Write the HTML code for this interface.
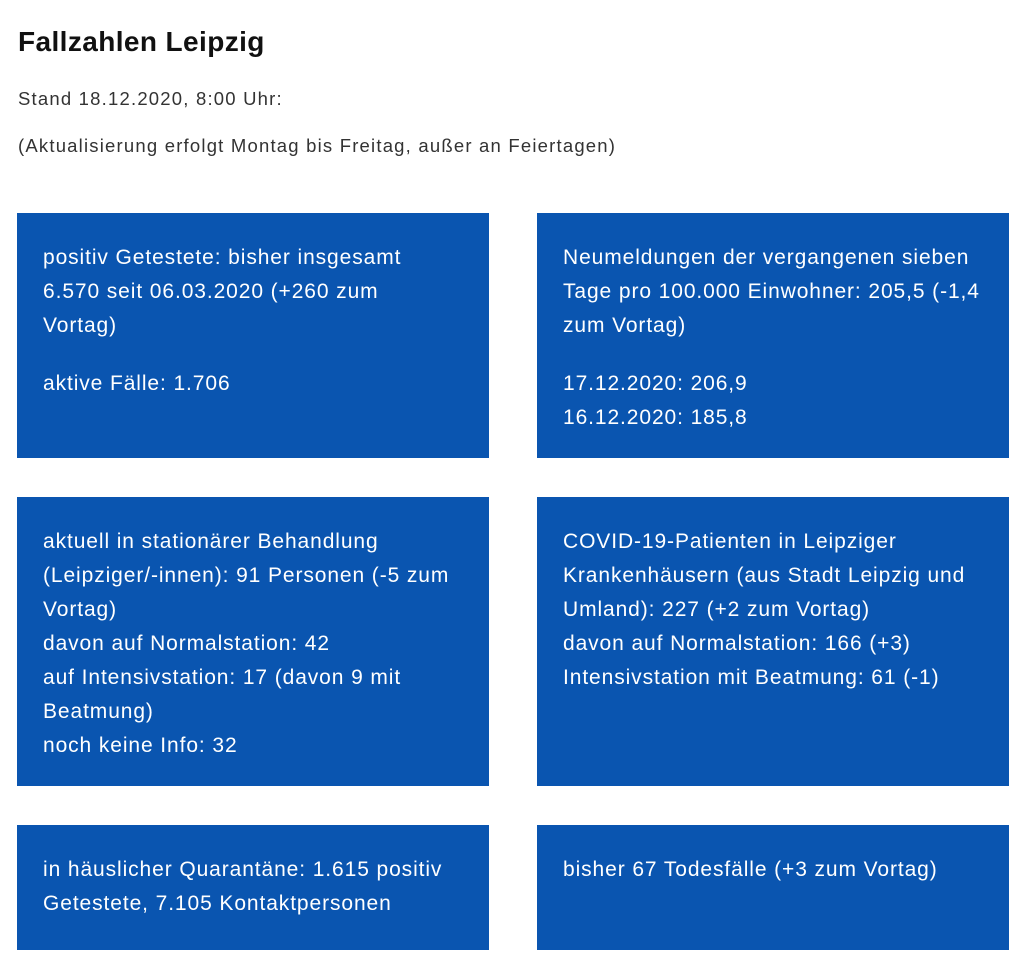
<!DOCTYPE html>
<html><head><meta charset="utf-8"><style>
body{margin:0;width:1028px;height:970px;background:#fff;font-family:"Liberation Sans",sans-serif;color:#333;position:relative;overflow:hidden}
h1{position:absolute;left:18px;top:22px;margin:0;font-size:28px;font-weight:bold;color:#111;line-height:40px;letter-spacing:0.4px}
.p{position:absolute;left:18px;margin:0;font-size:18.5px;line-height:24px;color:#333;letter-spacing:1.2px}
.box{position:absolute;background:#0a55b0;color:#fff;font-size:21px;line-height:34px;padding:28px 20px 0 26px;box-sizing:border-box;white-space:nowrap;letter-spacing:0.9px}
.box p{margin:0 0 24px 0}
</style></head><body>
<h1>Fallzahlen Leipzig</h1>
<p class="p" style="top:87px">Stand 18.12.2020, 8:00 Uhr:</p>
<p class="p" style="top:134px">(Aktualisierung erfolgt Montag bis Freitag, außer an Feiertagen)</p>

<div class="box" style="left:17px;top:213px;width:472px;height:245px">
<p>positiv Getestete: bisher insgesamt<br>6.570 seit 06.03.2020 (+260 zum<br>Vortag)</p><p>aktive Fälle: 1.706</p></div>

<div class="box" style="left:537px;top:213px;width:472px;height:245px">
<p>Neumeldungen der vergangenen sieben<br>Tage pro 100.000 Einwohner: 205,5 (-1,4<br>zum Vortag)</p><p>17.12.2020: 206,9<br>16.12.2020: 185,8</p></div>

<div class="box" style="left:17px;top:497px;width:472px;height:289px">
<p>aktuell in stationärer Behandlung<br>(Leipziger/-innen): 91 Personen (-5 zum<br>Vortag)<br>davon auf Normalstation: 42<br>auf Intensivstation: 17 (davon 9 mit<br>Beatmung)<br>noch keine Info: 32</p></div>

<div class="box" style="left:537px;top:497px;width:472px;height:289px">
<p>COVID-19-Patienten in Leipziger<br>Krankenhäusern (aus Stadt Leipzig und<br>Umland): 227 (+2 zum Vortag)<br>davon auf Normalstation: 166 (+3)<br>Intensivstation mit Beatmung: 61 (-1)</p></div>

<div class="box" style="left:17px;top:825px;width:472px;height:125px">
<p>in häuslicher Quarantäne: 1.615 positiv<br>Getestete, 7.105 Kontaktpersonen</p></div>

<div class="box" style="left:537px;top:825px;width:472px;height:125px">
<p>bisher 67 Todesfälle (+3 zum Vortag)</p></div>
</body></html>
